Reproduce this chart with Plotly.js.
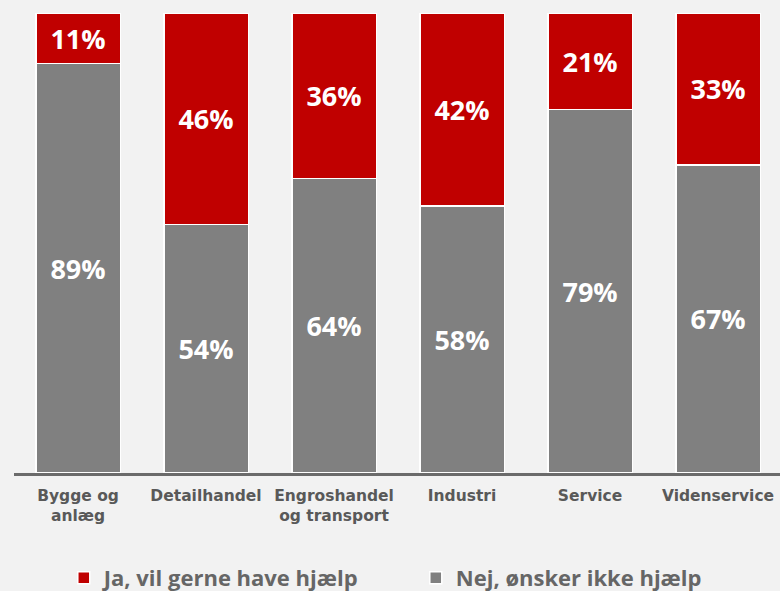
<!DOCTYPE html>
<html>
<head>
<meta charset="utf-8">
<script src="https://cdn.plot.ly/plotly-3.0.1.min.js"></script>
<style>html,body{margin:0;padding:0;background:#f2f2f2;overflow:hidden}</style>
</head>
<body>
<div id="chart" style="width:780px;height:591px"></div>
<script>
const categories = ["Bygge og<br>anlæg", "Detailhandel", "Engroshandel<br>og transport", "Industri", "Service", "Videnservice"];
const jaValues = [11, 46, 36, 42, 21, 33];
const nejValues = [89, 54, 64, 58, 79, 67];
const jaName = "Ja, vil gerne have hjælp";
const nejName = "Nej, ønsker ikke hjælp";

const labelFont = {family: "Open Sans, sans-serif", size: 27, color: "#ffffff", weight: 700};

const traces = [
  {
    type: "bar", name: nejName, x: categories, y: nejValues,
    marker: {color: "#808080", line: {color: "#ffffff", width: 1.5}},
    text: nejValues.map(v => v + "%"), textposition: "inside", insidetextanchor: "middle",
    textfont: labelFont, hoverinfo: "skip", showlegend: true, legendrank: 2
  },
  {
    type: "bar", name: jaName, x: categories, y: jaValues,
    marker: {color: "#c00000", line: {color: "#ffffff", width: 1.5}},
    text: jaValues.map(v => v + "%"), textposition: "inside", insidetextanchor: "middle",
    textfont: labelFont, hoverinfo: "skip", showlegend: true, legendrank: 1
  }
];

const layout = {
  width: 780, height: 591,
  paper_bgcolor: "#f2f2f2", plot_bgcolor: "#f2f2f2",
  barmode: "stack", bargap: 0.34,
  margin: {l: 14, r: 0, t: 13, b: 118, autoexpand: false},
  xaxis: {
    range: [-0.5, 5.484], showgrid: false, zeroline: false,
    showline: true, linecolor: "#6b6b6b", linewidth: 2.5,
    ticks: "", ticklabelstandoff: 7,
    tickfont: {family: "DejaVu Sans, Verdana, sans-serif", size: 15.5, color: "#595959", weight: 700}
  },
  yaxis: {range: [0, 100], visible: false, fixedrange: true},
  showlegend: true,
  legend: {
    orientation: "h", x: 0.065, xanchor: "left", y: -0.228, yanchor: "middle",
    entrywidth: 307, entrywidthmode: "pixels", traceorder: "normal",
    font: {family: "Open Sans, sans-serif", size: 22, color: "#666666", weight: 700},
    bgcolor: "rgba(0,0,0,0)"
  }
};

Plotly.newPlot("chart", traces, layout, {displayModeBar: false, staticPlot: true});
</script>
</body>
</html>
